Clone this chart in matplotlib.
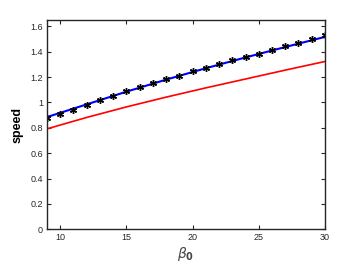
import numpy as np
import matplotlib.pyplot as plt

# simulated speed (markers)
beta_pts = np.arange(9, 31)
speed_pts = [0.875, 0.908, 0.944, 0.978, 1.018, 1.050, 1.088, 1.120, 1.155, 1.184, 1.212,
             1.245, 1.273, 1.304, 1.336, 1.362, 1.386, 1.414, 1.442, 1.469, 1.502, 1.533]

# theory curves
beta_line = [9, 12, 15, 18, 21, 24, 27, 30]
speed_blue = [0.885, 0.985, 1.085, 1.180, 1.270, 1.355, 1.437, 1.517]
speed_red = [0.792, 0.882, 0.965, 1.042, 1.115, 1.185, 1.255, 1.323]

xticks = [10, 15, 20, 25, 30]
yticks = [0, 0.2, 0.4, 0.6, 0.8, 1.0, 1.2, 1.4, 1.6]
ytick_labels = ['0', '0.2', '0.4', '0.6', '0.8', '1', '1.2', '1.4', '1.6']

plt.rcParams['font.family'] = ['Liberation Sans', 'DejaVu Sans']

fig = plt.figure(figsize=(3.6, 2.67), dpi=100)
ax = fig.add_axes([0.1306, 0.1412, 0.772, 0.7838])

ax.plot(beta_line, speed_red, color='red', linewidth=1.2)
ax.plot(beta_line, speed_blue, color='blue', linewidth=1.5)
ax.plot(beta_pts, speed_pts, linestyle='none', marker=(6, 2, 0), markersize=5,
        markeredgecolor='black', markeredgewidth=1.0, color='black')

ax.set_xlim(9, 30)
ax.set_ylim(0, 1.65)
ax.set_xticks(xticks)
ax.set_yticks(yticks)
ax.set_yticklabels(ytick_labels)
ax.tick_params(direction='in', top=True, right=True, labelsize=6.5, length=3,
               width=0.8, pad=3, colors='#262626')
for s in ax.spines.values():
    s.set_linewidth(1.0)
    s.set_color('#262626')

ax.set_ylabel('speed', fontsize=9, fontweight='bold', labelpad=5)
ax.set_xlabel(r'$\beta_{\mathbf{0}}$', fontsize=10, color='#444444', labelpad=2)

fig.savefig('out.png', dpi=100)
